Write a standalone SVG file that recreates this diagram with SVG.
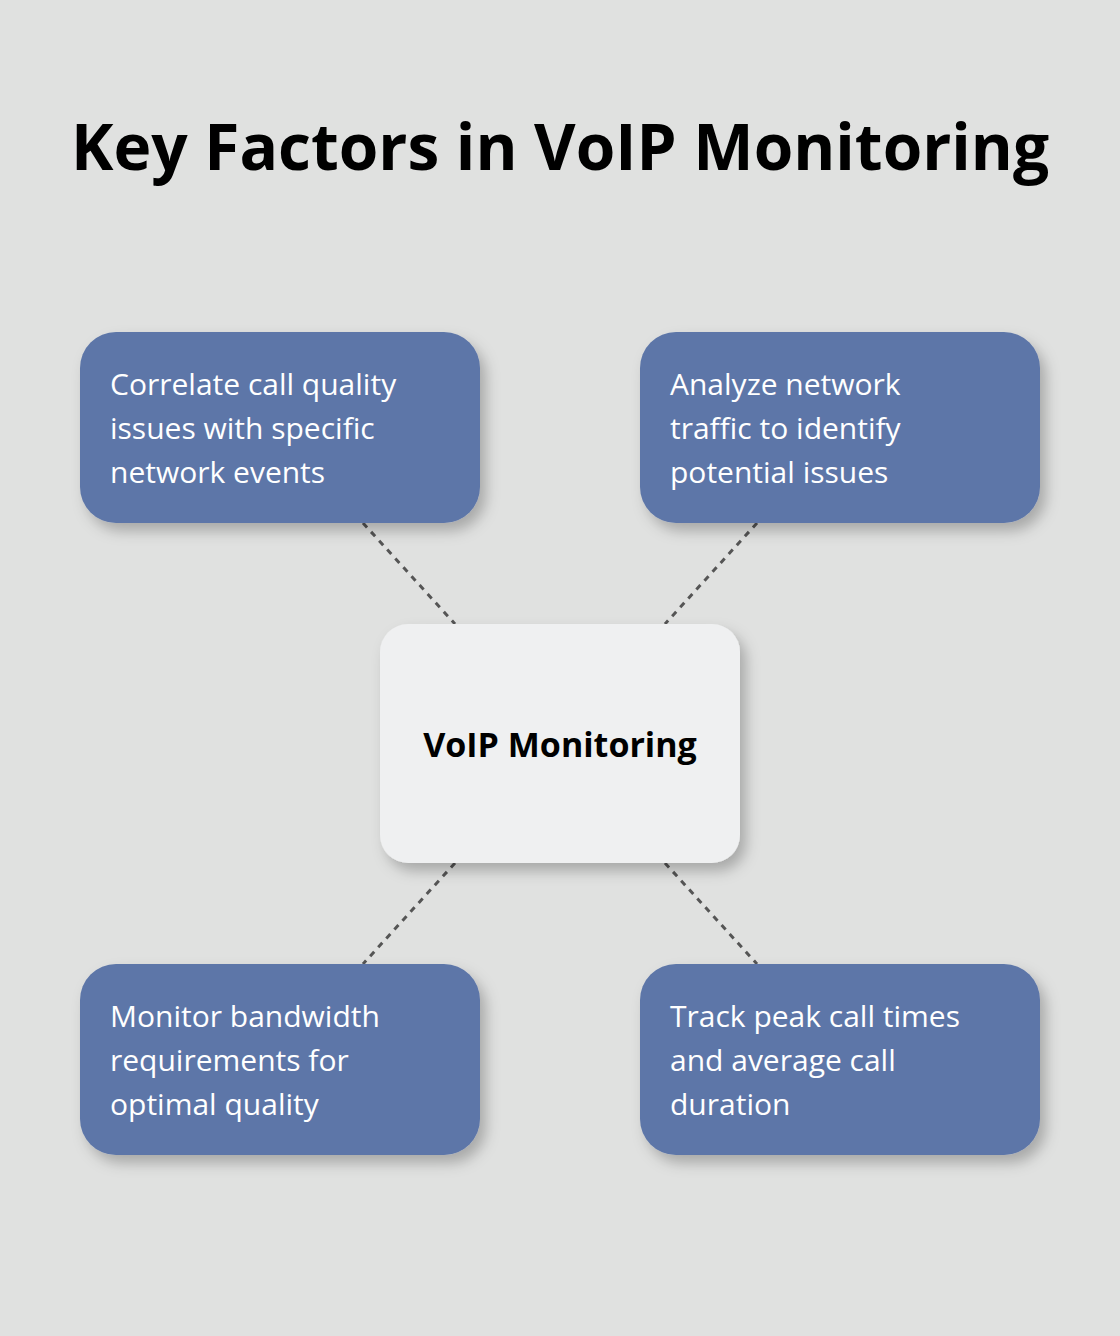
<svg xmlns="http://www.w3.org/2000/svg" width="1120" height="1336" viewBox="0 0 1120 1336">
<defs>
<filter id="sh" x="-20%" y="-20%" width="150%" height="160%"><feDropShadow dx="6" dy="8" stdDeviation="7" flood-color="#000" flood-opacity="0.25"/></filter>
<style>
.b{fill:#5d76a8;filter:url(#sh)}
.t{font-family:"Open Sans",sans-serif;font-size:30px;fill:#fff}
.c{stroke:#555;stroke-width:3;stroke-dasharray:6 6;fill:none}
</style>
</defs>
<rect width="1120" height="1336" fill="#e0e1e0"/>
<text x="560" y="170" text-anchor="middle" font-family="'Open Sans',sans-serif" font-weight="bold" font-size="64" fill="#000">Key Factors in VoIP Monitoring</text>
<g id="connectors">
<line class="c" x1="363" y1="523" x2="455" y2="624"/>
<line class="c" x1="757" y1="523" x2="665" y2="624"/>
<line class="c" x1="455" y1="863" x2="363" y2="964"/>
<line class="c" x1="665" y1="863" x2="757" y2="964"/>
</g>
<g id="center"><rect x="380" y="624" width="360" height="239" rx="28" fill="#eff0f1" filter="url(#sh)"/>
<text x="560" y="757" text-anchor="middle" font-family="'Open Sans',sans-serif" font-weight="bold" font-size="34" fill="#000">VoIP Monitoring</text></g>
<g id="n1"><rect class="b" x="80" y="332" width="400" height="191" rx="36"/>
<text class="t" x="110" y="395">Correlate call quality</text><text class="t" x="110" y="439">issues with specific</text><text class="t" x="110" y="483">network events</text></g>
<g id="n2"><rect class="b" x="640" y="332" width="400" height="191" rx="36"/>
<text class="t" x="670" y="395">Analyze network</text><text class="t" x="670" y="439">traffic to identify</text><text class="t" x="670" y="483">potential issues</text></g>
<g id="n3"><rect class="b" x="80" y="964" width="400" height="191" rx="36"/>
<text class="t" x="110" y="1027">Monitor bandwidth</text><text class="t" x="110" y="1071">requirements for</text><text class="t" x="110" y="1115">optimal quality</text></g>
<g id="n4"><rect class="b" x="640" y="964" width="400" height="191" rx="36"/>
<text class="t" x="670" y="1027">Track peak call times</text><text class="t" x="670" y="1071">and average call</text><text class="t" x="670" y="1115">duration</text></g>
</svg>
